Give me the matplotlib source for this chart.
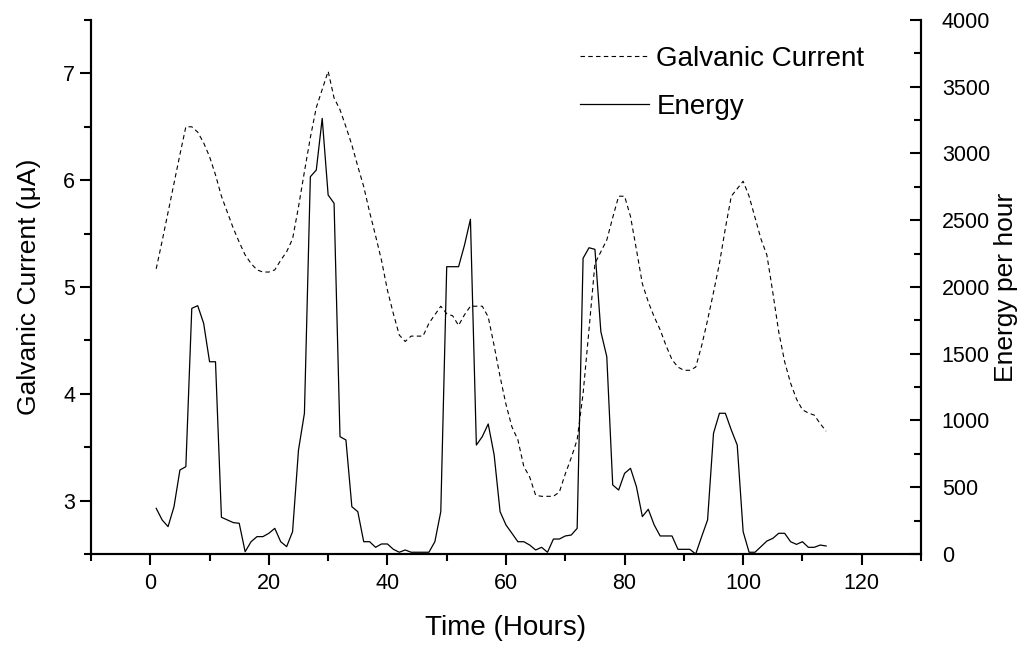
import numpy as np
import matplotlib
matplotlib.use("Agg")
import matplotlib.pyplot as plt
from matplotlib.ticker import MultipleLocator

plt.rcParams['font.family'] = ['Liberation Sans', 'DejaVu Sans']

hours = np.arange(1, 115)

galvanic = [
    5.17, 5.43, 5.70, 5.97, 6.24, 6.50, 6.50, 6.45, 6.35, 6.22,
    6.05, 5.85, 5.70, 5.55, 5.42, 5.30, 5.22, 5.16, 5.14, 5.14,
    5.16, 5.25, 5.33, 5.45, 5.75, 6.08, 6.40, 6.68, 6.85, 7.02,
    6.77, 6.66, 6.50, 6.33, 6.13, 5.94, 5.70, 5.48, 5.25, 4.97,
    4.75, 4.55, 4.49, 4.54, 4.54, 4.54, 4.66, 4.74, 4.82, 4.75,
    4.73, 4.64, 4.74, 4.82, 4.82, 4.82, 4.72, 4.45, 4.16, 3.90,
    3.69, 3.57, 3.32, 3.22, 3.05, 3.04, 3.04, 3.04, 3.08, 3.25,
    3.40, 3.57, 4.00, 4.60, 5.22, 5.33, 5.44, 5.65, 5.85, 5.85,
    5.66, 5.35, 5.03, 4.86, 4.72, 4.60, 4.45, 4.32, 4.25, 4.22,
    4.22, 4.25, 4.45, 4.69, 4.95, 5.22, 5.55, 5.85, 5.92, 5.99,
    5.85, 5.65, 5.45, 5.30, 4.95, 4.58, 4.30, 4.10, 3.95, 3.85,
    3.82, 3.80, 3.72, 3.65,
]

energy = [
    342, 255, 205, 354, 629, 654, 1840, 1860, 1728, 1440,
    1440, 275, 255, 235, 230, 17, 92, 130, 130, 155,
    192, 92, 55, 167, 779, 1054, 2826, 2876, 3263, 2689,
    2627, 879, 854, 354, 317, 92, 92, 50, 75, 75,
    35, 13, 30, 13, 13, 13, 13, 92, 317, 2152,
    2152, 2152, 2314, 2507, 816, 879, 974, 742, 317, 217,
    155, 92, 92, 67, 30, 50, 13, 112, 112, 135,
    142, 192, 2215, 2294, 2282, 1665, 1478, 517, 479, 604,
    642, 504, 280, 335, 217, 135, 135, 135, 35, 35,
    35, 0, 130, 255, 904, 1054, 1054, 929, 816, 167,
    13, 13, 55, 97, 117, 155, 155, 92, 72, 92,
    50, 50, 67, 60,
]

fig = plt.figure(figsize=(10.27, 6.49), dpi=100)
ax = fig.add_axes([0.0886, 0.1464, 0.8082, 0.8228])
ax2 = ax.twinx()

l1, = ax.plot(hours, galvanic, color='black', lw=0.8, dashes=(4, 3),
              label='Galvanic Current')
l2, = ax2.plot(hours, energy, color='black', lw=0.9, label='Energy')

ax.set_xlim(-10, 130)
ax.set_ylim(2.5, 7.5)
ax2.set_ylim(0, 4000)

ax.xaxis.set_major_locator(MultipleLocator(20))
ax.xaxis.set_minor_locator(MultipleLocator(10))
ax.yaxis.set_major_locator(MultipleLocator(1))
ax.yaxis.set_minor_locator(MultipleLocator(0.5))
ax2.yaxis.set_major_locator(MultipleLocator(500))
ax2.yaxis.set_minor_locator(MultipleLocator(250))

for a in (ax, ax2):
    a.spines['top'].set_visible(False)
    for s in a.spines.values():
        s.set_linewidth(1.5)

ax.tick_params(axis='both', which='major', direction='out', length=8,
               width=1.5, labelsize=15.5)
ax.tick_params(axis='x', which='major', pad=6)
ax.tick_params(axis='both', which='minor', direction='out', length=5, width=1.5)
ax2.tick_params(axis='y', which='major', direction='in', length=8,
                width=1.5, labelsize=15.5, pad=15)
ax2.tick_params(axis='y', which='minor', direction='in', length=5, width=1.5)

ax.set_xlabel('Time (Hours)', fontsize=20, labelpad=15)
ax.set_ylabel('Galvanic Current (μA)', fontsize=19, labelpad=16)
ax2.set_ylabel('Energy per hour', fontsize=19, labelpad=3)

ax2.legend(handles=[l1, l2], loc='upper left',
           bbox_to_anchor=(580 / 1027, 1 - 46 / 649),
           bbox_transform=fig.transFigure, frameon=False, fontsize=20,
           handlelength=2.5, handletextpad=0.25, labelspacing=0.78,
           borderpad=0, borderaxespad=0)

fig.savefig('out.png', dpi=100)
